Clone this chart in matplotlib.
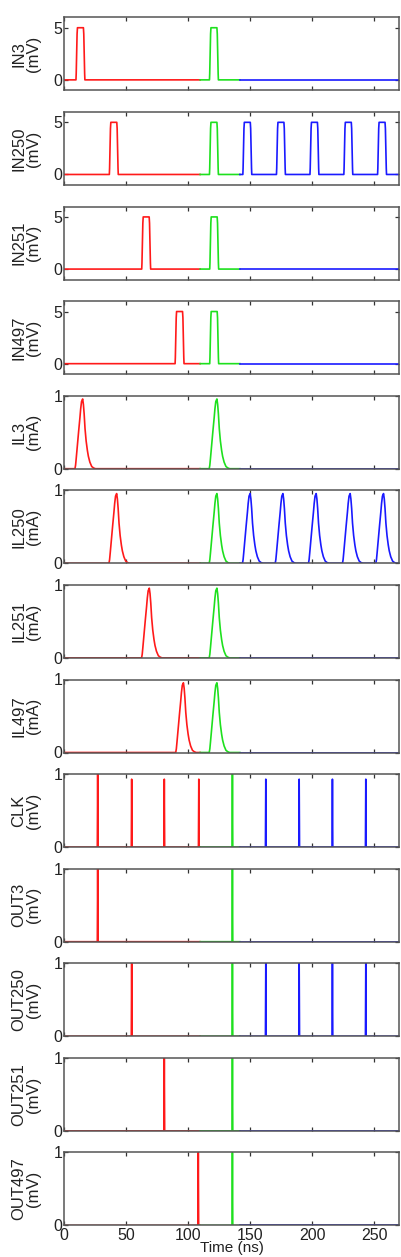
import numpy as np
import matplotlib
matplotlib.use("Agg")
import matplotlib.pyplot as plt

plt.rcParams['font.family'] = ['Liberation Sans', 'DejaVu Sans']

# ---------------- data ----------------
panel_names = ["IN3", "IN250", "IN251", "IN497",
               "IL3", "IL250", "IL251", "IL497",
               "CLK", "OUT3", "OUT250", "OUT251", "OUT497"]
panel_units = ["(mV)"] * 4 + ["(mA)"] * 4 + ["(mV)"] * 5

# colour segments of the time axis (ns)
segment_edges = [0, 109.5, 141.5, 270]
segment_colors = ["#ff1a1a", "#1ee01e", "#1a1aff"]

# input voltage pulses: onset times (ns), amplitude 5 mV
in_onsets = {
    "IN3":   [9.4, 117.0],
    "IN250": [36.3, 117.0, 143.9, 171.0, 198.0, 225.3, 252.5],
    "IN251": [62.4, 117.2],
    "IN497": [89.3, 117.2],
}
in_pulse_dt = [0.0, 0.2, 0.9, 1.2, 6.0, 6.3, 7.0, 7.2]
in_pulse_mv = [0.0, 0.6, 4.4, 5.0, 5.0, 4.4, 0.6, 0.0]

# loop currents: onset times (ns)
il_onsets = {
    "IL3":   [8.6, 116.8],
    "IL250": [36.0, 116.8, 143.6, 170.0, 196.8, 224.2, 251.1],
    "IL251": [62.3, 116.8],
    "IL497": [89.8, 116.8],
}
il_pulse_dt = [0.0, 0.5, 1.0, 2.0, 3.0, 4.0, 4.6, 5.3, 6.2, 6.8, 7.4, 8.1,
               9.0, 10.0, 10.8, 12.0, 13.5, 15.0, 16.5]
il_pulse_ma = [0.0, 0.05, 0.14, 0.33, 0.52, 0.70, 0.82, 0.92, 0.955, 0.88,
               0.75, 0.55, 0.38, 0.25, 0.17, 0.09, 0.03, 0.01, 0.0]

# clock / output spikes: times (ns) and heights (mV)
spike_times = {
    "CLK":    [26.9, 54.3, 80.6, 108.4, 135.5, 162.4, 189.3, 216.1, 243.0],
    "OUT3":   [26.9, 135.5],
    "OUT250": [54.3, 135.5, 162.4, 189.3, 216.1, 243.0],
    "OUT251": [80.6, 135.5],
    "OUT497": [108.0, 135.5],
}
spike_heights = {
    "CLK":    [1.0, 0.93, 0.93, 0.93, 1.0, 0.93, 0.93, 0.93, 0.93],
    "OUT3":   [1.0, 1.0],
    "OUT250": [1.0, 1.0, 1.0, 1.0, 1.0, 1.0],
    "OUT251": [1.0, 1.0],
    "OUT497": [1.0, 1.0],
}
spike_dt = [-0.3, 0.0, 0.3]

x_ticks = [0, 50, 100, 150, 200, 250]


# ---------------- helpers ----------------
def build_wave(onsets, dts, vals, scale=None):
    pts = [(segment_edges[0], 0.0)]
    for k, s in enumerate(sorted(onsets)):
        f = 1.0 if scale is None else scale[k]
        for d, v in zip(dts, vals):
            pts.append((s + d, v * f))
    pts.append((segment_edges[-1], 0.0))
    return pts


def plot_segments(ax, pts):
    for a, b, c in zip(segment_edges[:-1], segment_edges[1:], segment_colors):
        seg = [(a, 0.0)] + [p for p in pts if a < p[0] < b] + [(b, 0.0)]
        t = [p[0] for p in seg]
        y = [p[1] for p in seg]
        ax.plot(t, y, color=c, lw=1.2, solid_joinstyle='round', zorder=2)


# ---------------- figure ----------------
W, H = 401, 1257
fig = plt.figure(figsize=(W / 100, H / 100), dpi=100)

left_px, right_px = 64.3, 399.3
top0_px, pitch_px, height_px = 17.3, 94.6, 73.0
axw_px = right_px - left_px

axes = []
for i, name in enumerate(panel_names):
    top = top0_px + i * pitch_px
    ax = fig.add_axes([left_px / W, 1 - (top + height_px) / H,
                       axw_px / W, height_px / H])
    axes.append(ax)

    if name in in_onsets:
        pts = build_wave(in_onsets[name], in_pulse_dt, in_pulse_mv)
        ax.set_ylim(-1, 6)
        ax.set_yticks([0, 5])
    elif name in il_onsets:
        pts = build_wave(il_onsets[name], il_pulse_dt, il_pulse_ma)
        ax.set_ylim(0, 1)
        ax.set_yticks([0, 1])
    else:
        pts = build_wave(spike_times[name], spike_dt, [0.0, 1.0, 0.0],
                         scale=spike_heights[name])
        ax.set_ylim(0, 1)
        ax.set_yticks([0, 1])
    plot_segments(ax, pts)

    ax.set_xlim(0, 270)
    ax.set_xticks(x_ticks)
    ax.tick_params(direction='in', length=3, width=0.9, color='#333333',
                   top=True, right=True, labelsize=11.5, pad=2,
                   labelcolor='#222222')
    ax.tick_params(axis='y', pad=1.5)
    for sp in ax.spines.values():
        sp.set_color('#555555')
        sp.set_linewidth(1.1)
        sp.set_zorder(3)
    ax.set_ylabel(name + "\n" + panel_units[i], fontsize=12,
                  linespacing=0.95, color='#222222')
    ax.yaxis.set_label_coords(-(left_px - 41.0) / axw_px, 0.5)
    if i < len(panel_names) - 1:
        ax.set_xticklabels([])
    else:
        ax.set_xlabel("Time (ns)", fontsize=11, labelpad=-1.5,
                      color='#222222')

fig.savefig("out.png", dpi=100)
